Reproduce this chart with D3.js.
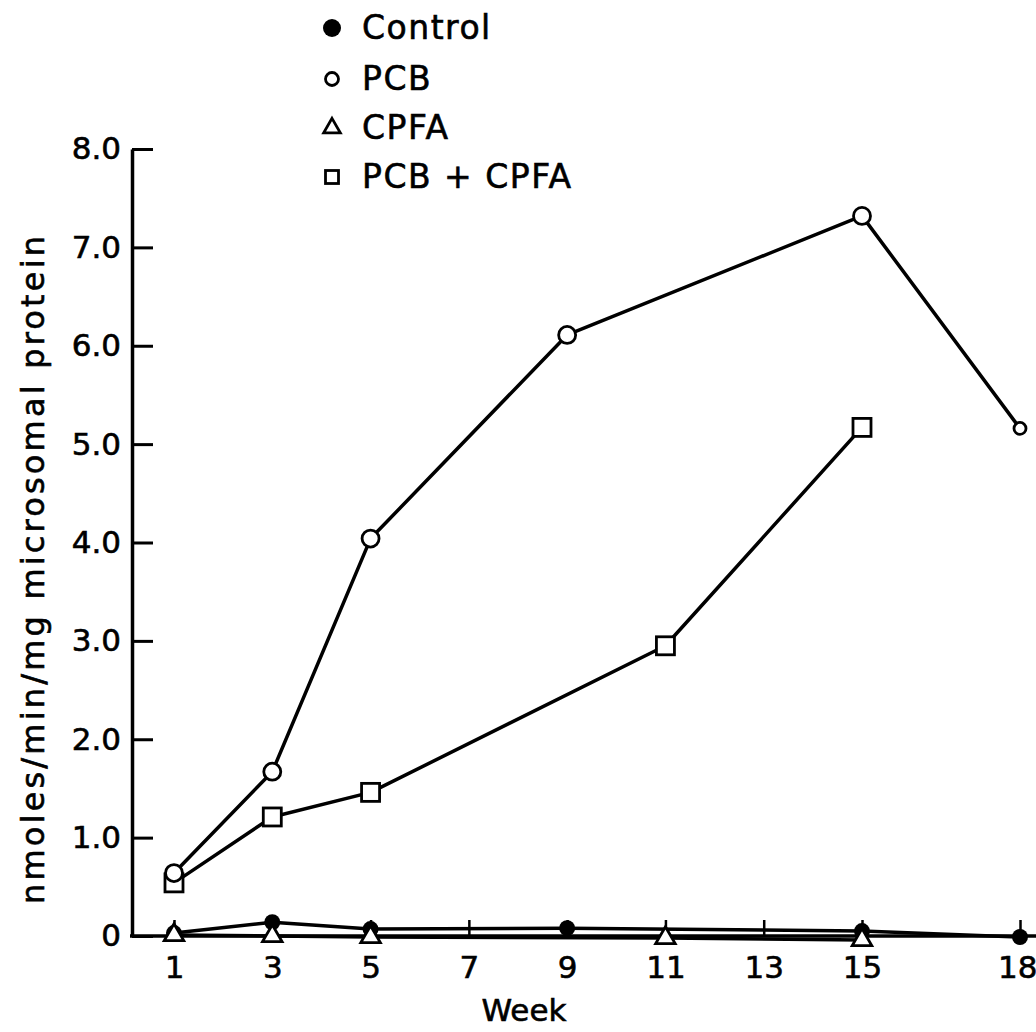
<!DOCTYPE html>
<html>
<head>
<meta charset="utf-8">
<script src="https://cdn.jsdelivr.net/npm/d3@7/dist/d3.min.js"></script>
<style>
  html, body { margin: 0; padding: 0; background: #fff; }
  svg { display: block; }
  text { font-family: "DejaVu Sans", sans-serif; fill: #000; stroke: #000; stroke-width: 0.6px; }
</style>
</head>
<body>
<svg id="chart" width="1036" height="1032"></svg>
<script>
// ---- data ----
const xTickValues = [1, 3, 5, 7, 9, 11, 13, 15, 18];
const xTickLabels = ["1", "3", "5", "7", "9", "11", "13", "15", "18"];
const yTickValues = [0, 1, 2, 3, 4, 5, 6, 7, 8];
const yTickLabels = ["0", "1.0", "2.0", "3.0", "4.0", "5.0", "6.0", "7.0", "8.0"];

const controlWeeks = [1, 3, 5, 9, 15, 18];
const controlValues = [0.03, 0.14, 0.07, 0.08, 0.05, -0.01];

const pcbWeeks = [1, 3, 5, 9, 15, 18];
const pcbValues = [0.64, 1.67, 4.04, 6.11, 7.32, 5.16];

const cpfaWeeks = [1, 3, 5, 11, 15];
const cpfaValues = [0.01, 0.0, -0.01, -0.02, -0.04];

const comboWeeks = [1, 3, 5, 11, 15];
const comboValues = [0.54, 1.21, 1.46, 2.95, 5.17];

const legendLabels = ["Control", "PCB", "CPFA", "PCB + CPFA"];
const xTitle = "Week";
const yTitle = "nmoles/min/mg microsomal protein";

// ---- layout ----
const svg = d3.select("#chart");
const axisX = 132, baseY = 936, topY = 149;

const x = d3.scaleLinear().domain([1, 15, 18]).range([174, 862, 1020]);
const y = d3.scaleLinear().domain([0, 8]).range([baseY, topY]);

// X axis
const gx = svg.append("g").attr("transform", `translate(0,${baseY})`)
  .call(d3.axisBottom(x).tickValues(xTickValues)
    .tickFormat((d, i) => xTickLabels[i]).tickSize(-16).tickPadding(20).tickSizeOuter(0));
gx.select(".domain").remove();
gx.selectAll(".tick line").attr("stroke", "#000").attr("stroke-width", 2.5);
gx.selectAll(".tick text").attr("font-size", 31).attr("font-family", "DejaVu Sans")
  .filter((d, i, n) => i === n.length - 1).attr("text-anchor", "end").attr("dx", 17);
svg.append("line").attr("x1", axisX - 2).attr("x2", 1036).attr("y1", baseY).attr("y2", baseY)
  .attr("stroke", "#000").attr("stroke-width", 3.5);

// Y axis
const gy = svg.append("g").attr("transform", `translate(${axisX},0)`)
  .call(d3.axisLeft(y).tickValues(yTickValues)
    .tickFormat((d, i) => yTickLabels[i]).tickSize(-21).tickPadding(11).tickSizeOuter(0));
gy.select(".domain").attr("stroke", "#000").attr("stroke-width", 3.5);
gy.selectAll(".tick line").attr("stroke", "#000").attr("stroke-width", 3);
gy.selectAll(".tick text").attr("font-size", 31).attr("font-family", "DejaVu Sans");

// Axis titles
svg.append("text").attr("x", 524).attr("y", 1021).attr("text-anchor", "middle")
  .attr("font-size", 31).text(xTitle);
svg.append("text").attr("transform", "translate(44,570) rotate(-90)")
  .attr("text-anchor", "middle").attr("font-size", 32)
  .attr("textLength", 668).attr("lengthAdjust", "spacing").text(yTitle);

// Lines
const line = d3.line().x(d => x(d[0])).y(d => y(d[1]));
const series = [
  d3.zip(controlWeeks, controlValues),
  d3.zip(cpfaWeeks, cpfaValues),
  d3.zip(comboWeeks, comboValues),
  d3.zip(pcbWeeks, pcbValues)
];
svg.append("g").selectAll("path").data(series).join("path")
  .attr("d", line).attr("fill", "none").attr("stroke", "#000")
  .attr("stroke-width", 3.5).attr("stroke-linejoin", "round");

// Markers
const gm = svg.append("g");
gm.selectAll("circle.ctrl").data(series[0]).join("circle").attr("class", "ctrl")
  .attr("cx", d => x(d[0])).attr("cy", d => y(d[1])).attr("r", 8).attr("fill", "#000");
gm.selectAll("path.tri").data(series[1]).join("path").attr("class", "tri")
  .attr("transform", d => `translate(${x(d[0])},${y(d[1])})`)
  .attr("d", d3.symbol(d3.symbolTriangle, 165))
  .attr("fill", "#fff").attr("stroke", "#000").attr("stroke-width", 2.8);
gm.selectAll("rect.sq").data(series[2]).join("rect").attr("class", "sq")
  .attr("x", d => x(d[0]) - 9).attr("y", d => y(d[1]) - 9).attr("width", 18).attr("height", 18)
  .attr("fill", "#fff").attr("stroke", "#000").attr("stroke-width", 2.8);
gm.selectAll("circle.pcb").data(series[3]).join("circle").attr("class", "pcb")
  .attr("cx", d => x(d[0])).attr("cy", d => y(d[1])).attr("r", (d, i) => i === series[3].length - 1 ? 6 : 8.5)
  .attr("fill", "#fff").attr("stroke", "#000").attr("stroke-width", 2.8);

// Legend
const legendBaselines = [39, 90, 139, 188];
const lg = svg.append("g");
const items = lg.selectAll("g").data(legendLabels).join("g")
  .attr("transform", (d, i) => `translate(332,${legendBaselines[i]})`);
items.append("text").attr("x", 30).attr("y", 0).attr("font-size", 33)
  .attr("letter-spacing", 1.5).text(d => d);
items.each(function (d, i) {
  const g = d3.select(this);
  if (i === 0) g.append("circle").attr("cx", 0).attr("cy", -11).attr("r", 9).attr("fill", "#000");
  if (i === 1) g.append("circle").attr("cx", 0).attr("cy", -11).attr("r", 6.5)
    .attr("fill", "#fff").attr("stroke", "#000").attr("stroke-width", 2.8);
  if (i === 2) g.append("path").attr("transform", "translate(0,-11)")
    .attr("d", d3.symbol(d3.symbolTriangle, 120))
    .attr("fill", "#fff").attr("stroke", "#000").attr("stroke-width", 2.8);
  if (i === 3) g.append("rect").attr("x", -6.5).attr("y", -17.5).attr("width", 13).attr("height", 13)
    .attr("fill", "#fff").attr("stroke", "#000").attr("stroke-width", 2.8);
});
</script>
</body>
</html>
